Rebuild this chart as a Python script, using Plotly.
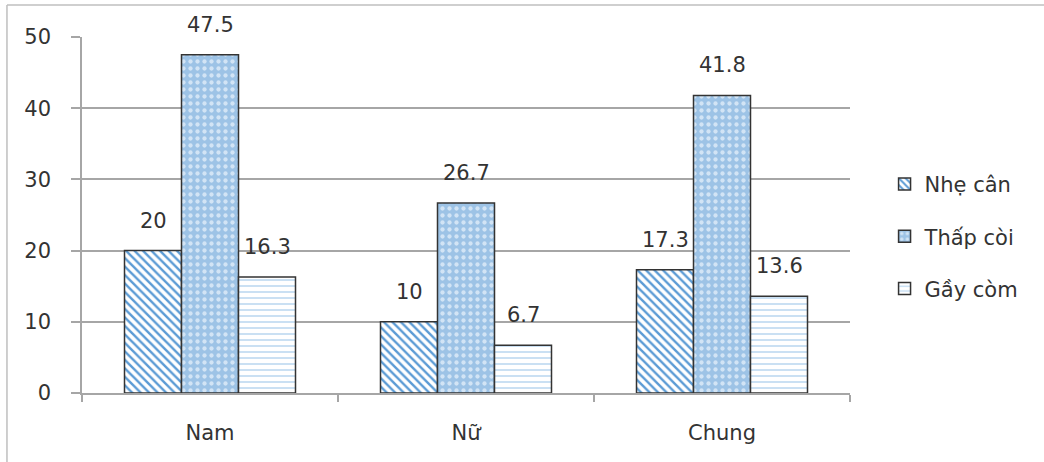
import plotly.graph_objects as go

# Chart data
categories = ["Nam", "Nữ", "Chung"]
series_names = ["Nhẹ cân", "Thấp còi", "Gầy còm"]
nhe_can = [20, 10, 17.3]
thap_coi = [47.5, 26.7, 41.8]
gay_com = [16.3, 6.7, 13.6]
y_ticks = [0, 10, 20, 30, 40, 50]

values = [nhe_can, thap_coi, gay_com]

FONT = "DejaVu Sans"
TEXT = "#333333"
GRID = "#A6A6A6"
OUTLINE = "#333333"
BARGAP = 0.332

patterns = [
    dict(shape="\\", fgcolor="#5B9BD5", bgcolor="#FFFFFF", size=6, solidity=0.4, fillmode="replace"),
    dict(shape=".", fgcolor="#D2E4F5", bgcolor="#9DC3E6", size=7, solidity=0.3, fillmode="replace"),
    dict(shape="-", fgcolor="#B9D6F0", bgcolor="#FFFFFF", size=6, solidity=0.25, fillmode="replace"),
]

fig = go.Figure()
for j, (name, vals) in enumerate(zip(series_names, values)):
    fig.add_trace(go.Bar(
        x=categories,
        y=vals,
        name=name,
        legendgroup=name,
        marker=dict(color="#FFFFFF", pattern=patterns[j],
                    line=dict(color=OUTLINE, width=1.5)),
    ))

# value labels above each bar, positioned from the bar values
bar_w = (1 - BARGAP) / len(series_names)
annotations = []
for j, vals in enumerate(values):
    for i, v in enumerate(vals):
        annotations.append(dict(
            x=i + (j - 1) * bar_w, y=v, xref="x", yref="y",
            text=f"{v:g}", showarrow=False, yanchor="middle", yshift=30,
            font=dict(family=FONT, size=21, color=TEXT),
        ))

fig.update_layout(
    width=1044, height=462,
    margin=dict(l=82, r=194, t=37, b=69),
    paper_bgcolor="white", plot_bgcolor="white",
    barmode="group", bargap=BARGAP, bargroupgap=0,
    font=dict(family=FONT, size=21, color=TEXT),
    showlegend=True,
    legend=dict(x=1.045, xanchor="left", y=0.44, yanchor="middle",
                font=dict(family=FONT, size=21, color=TEXT),
                tracegroupgap=22, traceorder="grouped",
                bgcolor="rgba(0,0,0,0)"),
    annotations=annotations,
    shapes=[
        dict(type="line", xref="paper", yref="paper", x0=-0.0977, x1=1.3, y0=1.0899, y1=1.0899,
             line=dict(color="#BFBFBF", width=1.5)),
        dict(type="line", xref="paper", yref="paper", x0=-0.0977, x1=-0.0977, y0=1.0899, y1=-0.25,
             line=dict(color="#BFBFBF", width=1.5)),
    ],
)

fig.update_xaxes(
    type="category", range=[-0.5, 2.5],
    showline=True, linecolor=GRID, linewidth=1.5,
    ticks="outside", tickson="boundaries", ticklen=7, tickcolor=GRID, tickwidth=1.5,
    showgrid=False, ticklabelstandoff=20,
    tickfont=dict(family=FONT, size=21, color=TEXT),
)
fig.update_yaxes(
    range=[0, 50], tickvals=y_ticks,
    showline=True, linecolor=GRID, linewidth=1.5,
    ticks="outside", ticklen=9, tickcolor=GRID, tickwidth=1.5,
    showgrid=True, gridcolor=GRID, gridwidth=1.5, zeroline=False,
    ticklabelstandoff=16,
    tickfont=dict(family=FONT, size=21, color=TEXT),
)

fig.write_html("out.html")
